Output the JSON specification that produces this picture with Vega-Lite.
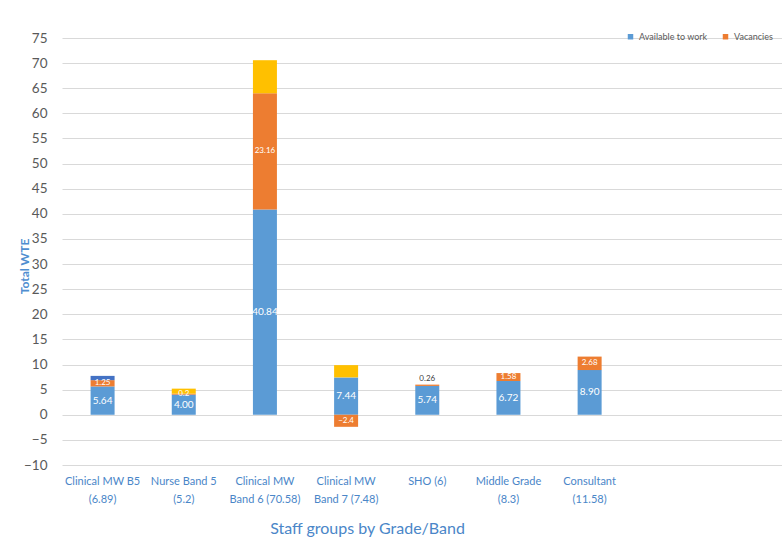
{
  "$schema": "https://vega.github.io/schema/vega-lite/v6.json",
  "width": 720,
  "height": 427,
  "autosize": {"type": "none"},
  "padding": {"left": 62, "top": 38, "right": 0, "bottom": 78},
  "background": "white",
  "config": {
    "font": "Lato",
    "view": {"stroke": null},
    "axisY": {
      "labelOverlap": false,
      "grid": true,
      "gridColor": "#d9d9d9",
      "gridWidth": 1,
      "domain": false,
      "ticks": false,
      "labelPadding": 15,
      "labelFontSize": 13.5,
      "labelColor": "#595959",
      "titleFontSize": 12,
      "titleFontWeight": "bold",
      "titleColor": "#4f8ed0"
    }
  },
  "data": {
    "values": [
      {"group": "Clinical MW B5\n(6.89)", "series": "Available to work", "value": 5.64},
      {"group": "Clinical MW B5\n(6.89)", "series": "Vacancies", "value": 1.25},
      {"group": "Clinical MW B5\n(6.89)", "series": "Series 4", "value": 0.85},
      {"group": "Nurse Band 5\n(5.2)", "series": "Available to work", "value": 4.0},
      {"group": "Nurse Band 5\n(5.2)", "series": "Vacancies", "value": 0.2},
      {"group": "Nurse Band 5\n(5.2)", "series": "Series 3", "value": 1.0},
      {"group": "Clinical MW\nBand 6 (70.58)", "series": "Available to work", "value": 40.84},
      {"group": "Clinical MW\nBand 6 (70.58)", "series": "Vacancies", "value": 23.16},
      {"group": "Clinical MW\nBand 6 (70.58)", "series": "Series 3", "value": 6.58},
      {"group": "Clinical MW\nBand 7 (7.48)", "series": "Available to work", "value": 7.44},
      {"group": "Clinical MW\nBand 7 (7.48)", "series": "Vacancies", "value": -2.4},
      {"group": "Clinical MW\nBand 7 (7.48)", "series": "Series 3", "value": 2.44},
      {"group": "SHO (6)", "series": "Available to work", "value": 5.74},
      {"group": "SHO (6)", "series": "Vacancies", "value": 0.26},
      {"group": "Middle Grade\n(8.3)", "series": "Available to work", "value": 6.72},
      {"group": "Middle Grade\n(8.3)", "series": "Vacancies", "value": 1.58},
      {"group": "Consultant\n(11.58)", "series": "Available to work", "value": 8.9},
      {"group": "Consultant\n(11.58)", "series": "Vacancies", "value": 2.68}
    ]
  },
  "transform": [
    {"calculate": "indexof(['Available to work','Vacancies','Series 3','Series 4'], datum.series)", "as": "stackOrder"},
    {"stack": "value", "groupby": ["group"], "sort": [{"field": "stackOrder"}], "as": ["v0", "v1"]},
    {"calculate": "(datum.v0 + datum.v1) / 2", "as": "mid"}
  ],
  "encoding": {
    "x": {
      "field": "group",
      "type": "nominal",
      "sort": null,
      "scale": {"paddingInner": 0, "paddingOuter": 0.935, "align": 0},
      "axis": {
        "title": "Staff groups by Grade/Band",
        "titleFontSize": 16,
        "titleFontWeight": "normal",
        "titleColor": "#4a86c8",
        "titleX": 305,
        "titleY": 63,
        "titleBaseline": "middle",
        "labelExpr": "split(datum.label, '\\n')",
        "labelAngle": 0,
        "labelFontSize": 11,
        "labelLineHeight": 18,
        "labelColor": "#4a86c8",
        "labelPadding": 10,
        "labelBaseline": "top",
        "domain": false,
        "ticks": false,
        "grid": false
      }
    }
  },
  "layer": [
    {
      "mark": {"type": "bar", "width": 24},
      "encoding": {
        "y": {
          "field": "v0",
          "type": "quantitative",
          "scale": {"domain": [-10, 75], "nice": false, "zero": false},
          "axis": {
            "title": "Total  WTE",
            "titleX": -31,
            "titleY": 228,
            "values": [-10, -5, 0, 5, 10, 15, 20, 25, 30, 35, 40, 45, 50, 55, 60, 65, 70, 75]
          }
        },
        "y2": {"field": "v1"},
        "color": {
          "field": "series",
          "type": "nominal",
          "scale": {
            "domain": ["Available to work", "Vacancies", "Series 3", "Series 4"],
            "range": ["#5b9bd5", "#ed7d31", "#ffc000", "#4472c4"]
          },
          "legend": {
            "values": ["Available to work", "Vacancies"],
            "title": null,
            "orient": "none",
            "legendX": 564,
            "legendY": -6,
            "direction": "horizontal",
            "symbolType": "square",
            "symbolSize": 30,
            "symbolStrokeWidth": 0,
            "labelFontSize": 9,
            "labelColor": "#595959",
            "columnPadding": 13
          }
        }
      }
    },
    {
      "transform": [{"filter": "datum.series == 'Available to work'"}],
      "mark": {"type": "text", "color": "white", "fontSize": 10},
      "encoding": {
        "y": {
          "field": "mid",
          "type": "quantitative",
          "axis": {
            "title": "Total  WTE",
            "titleX": -31,
            "titleY": 228,
            "values": [-10, -5, 0, 5, 10, 15, 20, 25, 30, 35, 40, 45, 50, 55, 60, 65, 70, 75]
          }
        },
        "text": {"field": "value", "type": "quantitative", "format": ".2f"}
      }
    },
    {
      "transform": [{"filter": "datum.series == 'Vacancies' && datum.group != 'SHO (6)'"}],
      "mark": {"type": "text", "color": "white", "fontSize": 8},
      "encoding": {
        "y": {
          "field": "mid",
          "type": "quantitative",
          "axis": {
            "title": "Total  WTE",
            "titleX": -31,
            "titleY": 228,
            "values": [-10, -5, 0, 5, 10, 15, 20, 25, 30, 35, 40, 45, 50, 55, 60, 65, 70, 75]
          }
        },
        "text": {"field": "value", "type": "quantitative"}
      }
    },
    {
      "transform": [{"filter": "datum.series == 'Vacancies' && datum.group == 'SHO (6)'"}],
      "mark": {"type": "text", "color": "#404040", "fontSize": 8, "dy": -6},
      "encoding": {
        "y": {
          "field": "v1",
          "type": "quantitative",
          "axis": {
            "title": "Total  WTE",
            "titleX": -31,
            "titleY": 228,
            "values": [-10, -5, 0, 5, 10, 15, 20, 25, 30, 35, 40, 45, 50, 55, 60, 65, 70, 75]
          }
        },
        "text": {"field": "value", "type": "quantitative"}
      }
    }
  ]
}
